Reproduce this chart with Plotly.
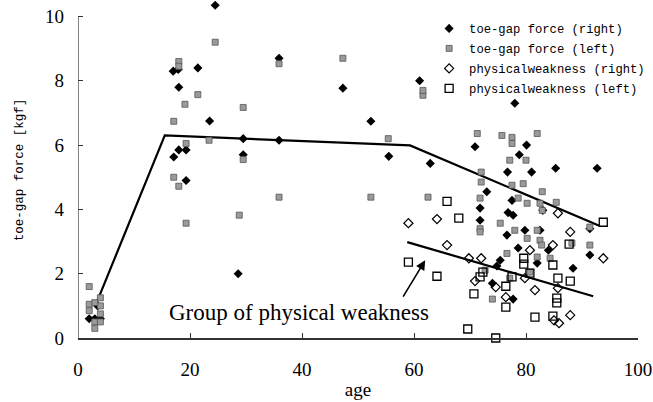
import plotly.graph_objects as go

# toe-gap force (right)
right_age = [2, 3, 4, 3.5, 17, 17.9, 18, 21.4, 24.5, 23.5, 29.5, 29.5, 28.6, 35.9, 35.9,
             47.3, 52.3, 55.5, 18, 19.3, 17.1, 19.3, 61, 62.9, 78, 70.9, 80.1, 78.8, 76.7,
             81, 85.3, 92.7, 73, 71.8, 71.8, 76.8, 77.7, 77.5, 79.8, 76.6, 82.5, 83, 91.4,
             75.4, 74.8, 82, 74, 77.7, 78.6, 84, 91.4, 88.4]
right_val = [0.6, 0.6, 0.6, 1.0, 8.3, 8.35, 7.8, 8.4, 10.35, 6.75, 6.2, 5.7, 2.0, 8.7, 6.15,
             7.77, 6.74, 5.65, 5.85, 5.85, 5.63, 4.9, 8.0, 5.43, 7.3, 5.95, 6.0, 5.7, 5.16,
             5.16, 5.28, 5.28, 4.55, 4.04, 3.66, 3.9, 3.82, 4.28, 3.35, 3.2, 3.35, 3.97, 3.4,
             2.42, 2.24, 2.33, 1.7, 1.21, 2.8, 2.73, 2.58, 2.17]

# toe-gap force (left)
left_age = [2, 2, 2, 3, 3, 4, 4, 4, 4, 3, 18, 18, 21.4, 19.1, 17.1, 19.3, 23.4, 17.1, 18, 19.3,
            24.5, 29.5, 29.5, 35.9, 47.3, 55.4, 35.9, 52.3, 28.8, 62.5, 61.6, 61.6,
            71.3, 75.7, 77.5, 77.5, 82, 77.1, 80, 72, 72, 79.5, 77.5, 82.9, 71.8, 78.6, 80.2,
            82.5, 82.9, 71.8, 75.4, 78, 80.2, 82, 85.4, 91.4, 71.8, 76.6, 82.5, 82, 72.7, 74,
            77.1, 80.7, 91.4, 84.3, 88.2, 82.8]
left_val = [1.6, 1.05, 0.85, 0.5, 0.3, 1.25, 1.0, 0.75, 0.5, 1.1, 8.6, 8.45, 7.57, 7.27, 6.74,
            6.05, 6.15, 5.0, 4.72, 3.57, 9.2, 7.17, 5.55, 8.53, 8.7, 6.2, 4.38, 4.38, 3.82,
            4.38, 7.55, 7.7, 6.36, 6.3, 6.24, 6.05, 6.36, 5.53, 5.53, 5.16, 4.85, 4.8, 4.75,
            4.55, 4.35, 4.35, 4.19, 4.19, 3.97, 3.4, 3.57, 3.35, 3.1, 3.35, 4.22, 3.45, 3.3,
            2.63, 3.04, 2.52, 2.11, 1.21, 1.86, 2.05, 2.89, 2.48, 2.95, 2.89]

# physical weakness (right)
weak_r_age = [59, 64.1, 65.9, 69.8, 72, 70.9, 84.8, 87.9, 85.7, 93.8, 81.6, 85.7, 87.9, 85.9,
              85, 79.8, 76.4, 74.6, 80.7]
weak_r_val = [3.57, 3.7, 2.89, 2.48, 2.48, 1.77, 2.89, 3.3, 3.88, 2.48, 1.49, 1.55, 0.71, 0.46,
              0.55, 1.86, 1.27, 1.58, 2.73]

# physical weakness (left)
weak_l_age = [59, 64.1, 65.9, 68, 70.7, 69.6, 74.6, 76.4, 76.4, 81.6, 84.8, 79.6, 79.6, 84.8,
              85.7, 87.9, 85.5, 85.5, 93.8, 71.8, 77.5, 72.3, 87.7, 80.7]
weak_l_val = [2.36, 1.92, 4.25, 3.73, 1.37, 0.28, 0.0, 1.61, 0.96, 0.65, 0.68, 2.48, 2.3, 2.27,
              1.86, 1.77, 1.24, 1.09, 3.6, 1.9, 1.9, 2.05, 2.92, 2.02]

# trend lines
trend_age = [3, 15.5, 59.3, 93.2]
trend_val = [0.96, 6.3, 5.99, 3.48]
weak_line_age = [58.8, 92]
weak_line_val = [2.98, 1.3]

x_ticks = [0, 20, 40, 60, 80, 100]
y_ticks = [0, 2, 4, 6, 8, 10]

fig = go.Figure()
fig.add_trace(go.Scatter(x=trend_age, y=trend_val, mode="lines",
                         line=dict(color="black", width=2.2), showlegend=False, hoverinfo="skip"))
fig.add_trace(go.Scatter(x=weak_line_age, y=weak_line_val, mode="lines",
                         line=dict(color="black", width=2.2), showlegend=False, hoverinfo="skip"))
fig.add_trace(go.Scatter(x=right_age, y=right_val, mode="markers", name="toe-gap force (right)",
                         legendgroup="a",
                         marker=dict(symbol="diamond", size=7, color="black"), cliponaxis=False))
fig.add_trace(go.Scatter(x=left_age, y=left_val, mode="markers", name="toe-gap force (left)",
                         legendgroup="b",
                         marker=dict(symbol="square", size=6, color="#9a9a9a",
                                     line=dict(color="#555555", width=0.8)), cliponaxis=False))
fig.add_trace(go.Scatter(x=weak_r_age, y=weak_r_val, mode="markers", name="physicalweakness (right)",
                         legendgroup="c",
                         marker=dict(symbol="diamond-open", size=7, color="black",
                                     line=dict(width=1.2)), cliponaxis=False))
fig.add_trace(go.Scatter(x=weak_l_age, y=weak_l_val, mode="markers", name="physicalweakness (left)",
                         legendgroup="d",
                         marker=dict(symbol="square-open", size=8, color="black",
                                     line=dict(width=1.3)), cliponaxis=False))

fig.add_annotation(x=63, y=0.8, xref="x", yref="y", text="Group of physical weakness",
                   showarrow=False, xanchor="right", yanchor="middle",
                   font=dict(family="Liberation Serif", size=23, color="black"))
fig.add_annotation(x=62, y=2.42, ax=57.9, ay=1.24, xref="x", yref="y", axref="x", ayref="y",
                   text="", showarrow=True, arrowhead=2, arrowsize=1.2, arrowwidth=1.6,
                   arrowcolor="black")

# left axis line only up to the last tick
fig.add_shape(type="line", xref="x", yref="y", x0=x_ticks[0], x1=x_ticks[0],
              y0=y_ticks[0], y1=y_ticks[-1], line=dict(color="#333", width=1.2), layer="above")

fig.update_layout(
    width=653, height=402,
    margin=dict(l=78, r=15, t=1.5, b=64, autoexpand=False),
    paper_bgcolor="white", plot_bgcolor="white",
    font=dict(family="Liberation Serif", color="black"),
    legend=dict(x=0.627, y=0.9646, xanchor="left", yanchor="top",
                font=dict(family="Liberation Mono", size=12.2, color="black"),
                bgcolor="rgba(0,0,0,0)", itemwidth=30, tracegroupgap=1),
    xaxis=dict(range=[0, 100], tickvals=x_ticks, ticks="inside", ticklen=5, tickcolor="#333",
               showline=True, linecolor="#333", linewidth=1.5, showgrid=False, zeroline=False,
               automargin=False,
               tickfont=dict(family="Liberation Serif", size=19), ticklabelstandoff=13,
               title=dict(text="age", font=dict(family="Liberation Serif", size=19), standoff=4)),
    yaxis=dict(range=[0, 10.45], tickvals=y_ticks, ticks="inside", ticklen=5, tickcolor="#333",
               showline=False, showgrid=False, zeroline=False,
               automargin=False,
               tickfont=dict(family="Liberation Serif", size=19), ticklabelstandoff=13,
               title=dict(text="toe-gap force [kgf]",
                          font=dict(family="Liberation Mono", size=12.5), standoff=18)),
)

fig.write_html("out.html", config={"displayModeBar": False},
               post_script="document.body.style.margin='0px';")
